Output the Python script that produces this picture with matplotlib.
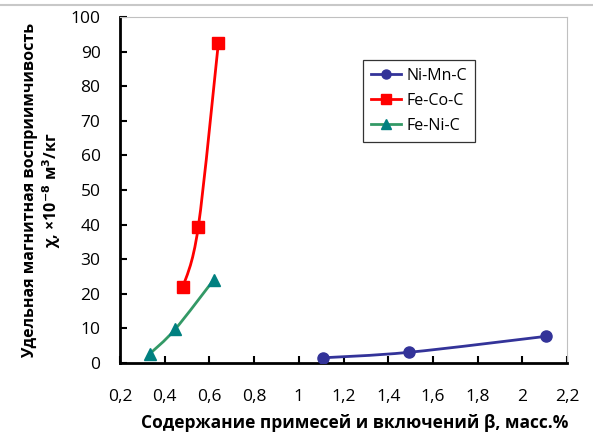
import matplotlib.pyplot as plt
from matplotlib.path import Path
from matplotlib.patches import PathPatch
from matplotlib.lines import Line2D

plt.rcParams['font.family'] = ['Open Sans', 'DejaVu Sans']

# данные
ni_mn_x = [1.107, 1.494, 2.105]
ni_mn_y = [1.5, 3.1, 7.7]
fe_co_x = [0.482, 0.55, 0.64]
fe_co_y = [22.0, 39.2, 92.4]
fe_ni_x = [0.334, 0.446, 0.62]
fe_ni_y = [2.7, 9.7, 24.1]

x_ticks = [0.2, 0.4, 0.6, 0.8, 1.0, 1.2, 1.4, 1.6, 1.8, 2.0, 2.2]
x_labels = ['0,2', '0,4', '0,6', '0,8', '1', '1,2', '1,4', '1,6', '1,8', '2', '2,2']
y_ticks = [0, 10, 20, 30, 40, 50, 60, 70, 80, 90, 100]


# Сглаженная линия как в Excel: кривые Безье через точки (Catmull-Rom)
def smooth_path(xs, ys):
    pts = list(zip(xs, ys))
    verts = [pts[0]]
    codes = [Path.MOVETO]
    n = len(pts)
    for i in range(n - 1):
        p0 = pts[i - 1] if i > 0 else pts[i]
        p1 = pts[i]
        p2 = pts[i + 1]
        p3 = pts[i + 2] if i + 2 < n else pts[i + 1]
        c1 = (p1[0] + (p2[0] - p0[0]) / 6, p1[1] + (p2[1] - p0[1]) / 6)
        c2 = (p2[0] - (p3[0] - p1[0]) / 6, p2[1] - (p3[1] - p1[1]) / 6)
        verts += [c1, c2, p2]
        codes += [Path.CURVE4] * 3
    return Path(verts, codes)


fig = plt.figure(figsize=(5.93, 4.44), dpi=100)
ax = fig.add_axes([120 / 593, 1 - 363 / 444, 447 / 593, 346 / 444])

series = [
    (ni_mn_x, ni_mn_y, '#333399', '#333399', 'o', 8, 'Ni-Mn-C'),
    (fe_co_x, fe_co_y, '#ff0000', '#ff0000', 's', 8.5, 'Fe-Co-C'),
    (fe_ni_x, fe_ni_y, '#339966', '#008080', '^', 8.5, 'Fe-Ni-C'),
]
handles = []
for xs, ys, lc, mc, mk, ms, name in series:
    ax.add_patch(PathPatch(smooth_path(xs, ys), facecolor='none', edgecolor=lc,
                           lw=2, zorder=3))
    ax.plot(xs, ys, linestyle='none', marker=mk, color=mc, markersize=ms, zorder=4)
    handles.append(Line2D([], [], color=lc, lw=2, marker=mk, markerfacecolor=mc,
                          markeredgecolor=mc, markersize=ms - 1.5, label=name))

ax.set_xlim(0.2, 2.2)
ax.set_ylim(0, 100)
ax.set_xticks(x_ticks)
ax.set_xticklabels(x_labels)
ax.set_yticks(y_ticks)
ax.tick_params(direction='in', length=5, width=1.5, labelsize=12.5, colors='black')
ax.tick_params(axis='x', pad=19)
ax.tick_params(axis='y', pad=14)

for s in ['left', 'bottom']:
    ax.spines[s].set_linewidth(2)
for s in ['top', 'right']:
    ax.spines[s].set_color('#c0c0c0')
    ax.spines[s].set_linewidth(0.8)

leg = ax.legend(handles=handles, loc='upper left', bbox_to_anchor=(243 / 447, 1 - 43 / 346),
                frameon=True, fancybox=False, edgecolor='black', fontsize=11.5,
                handlelength=1.9, handletextpad=0.3, borderpad=0.5, labelspacing=0.55,
                borderaxespad=0)
leg.get_frame().set_linewidth(0.9)

fig.text(355 / 593, 1 - 423 / 444, 'Содержание примесей и включений β, масс.%',
         ha='center', va='center', fontsize=12.5, fontweight='bold')
fig.text(30 / 593, 1 - 190 / 444, 'Удельная магнитная восприимчивость',
         ha='center', va='center', rotation=90, fontsize=11.5, fontweight='bold')
fig.text(52 / 593, 1 - 190 / 444, r'χ, ×10$^{\mathbf{-8}}$ м$^{\mathbf{3}}$/кг',
         ha='center', va='center', rotation=90, fontsize=11.5, fontweight='bold')

fig.add_artist(Line2D([0, 1], [1 - 5 / 444, 1 - 5 / 444], color='#c8c8c8', lw=1.5))

fig.savefig('out.png', dpi=100)
